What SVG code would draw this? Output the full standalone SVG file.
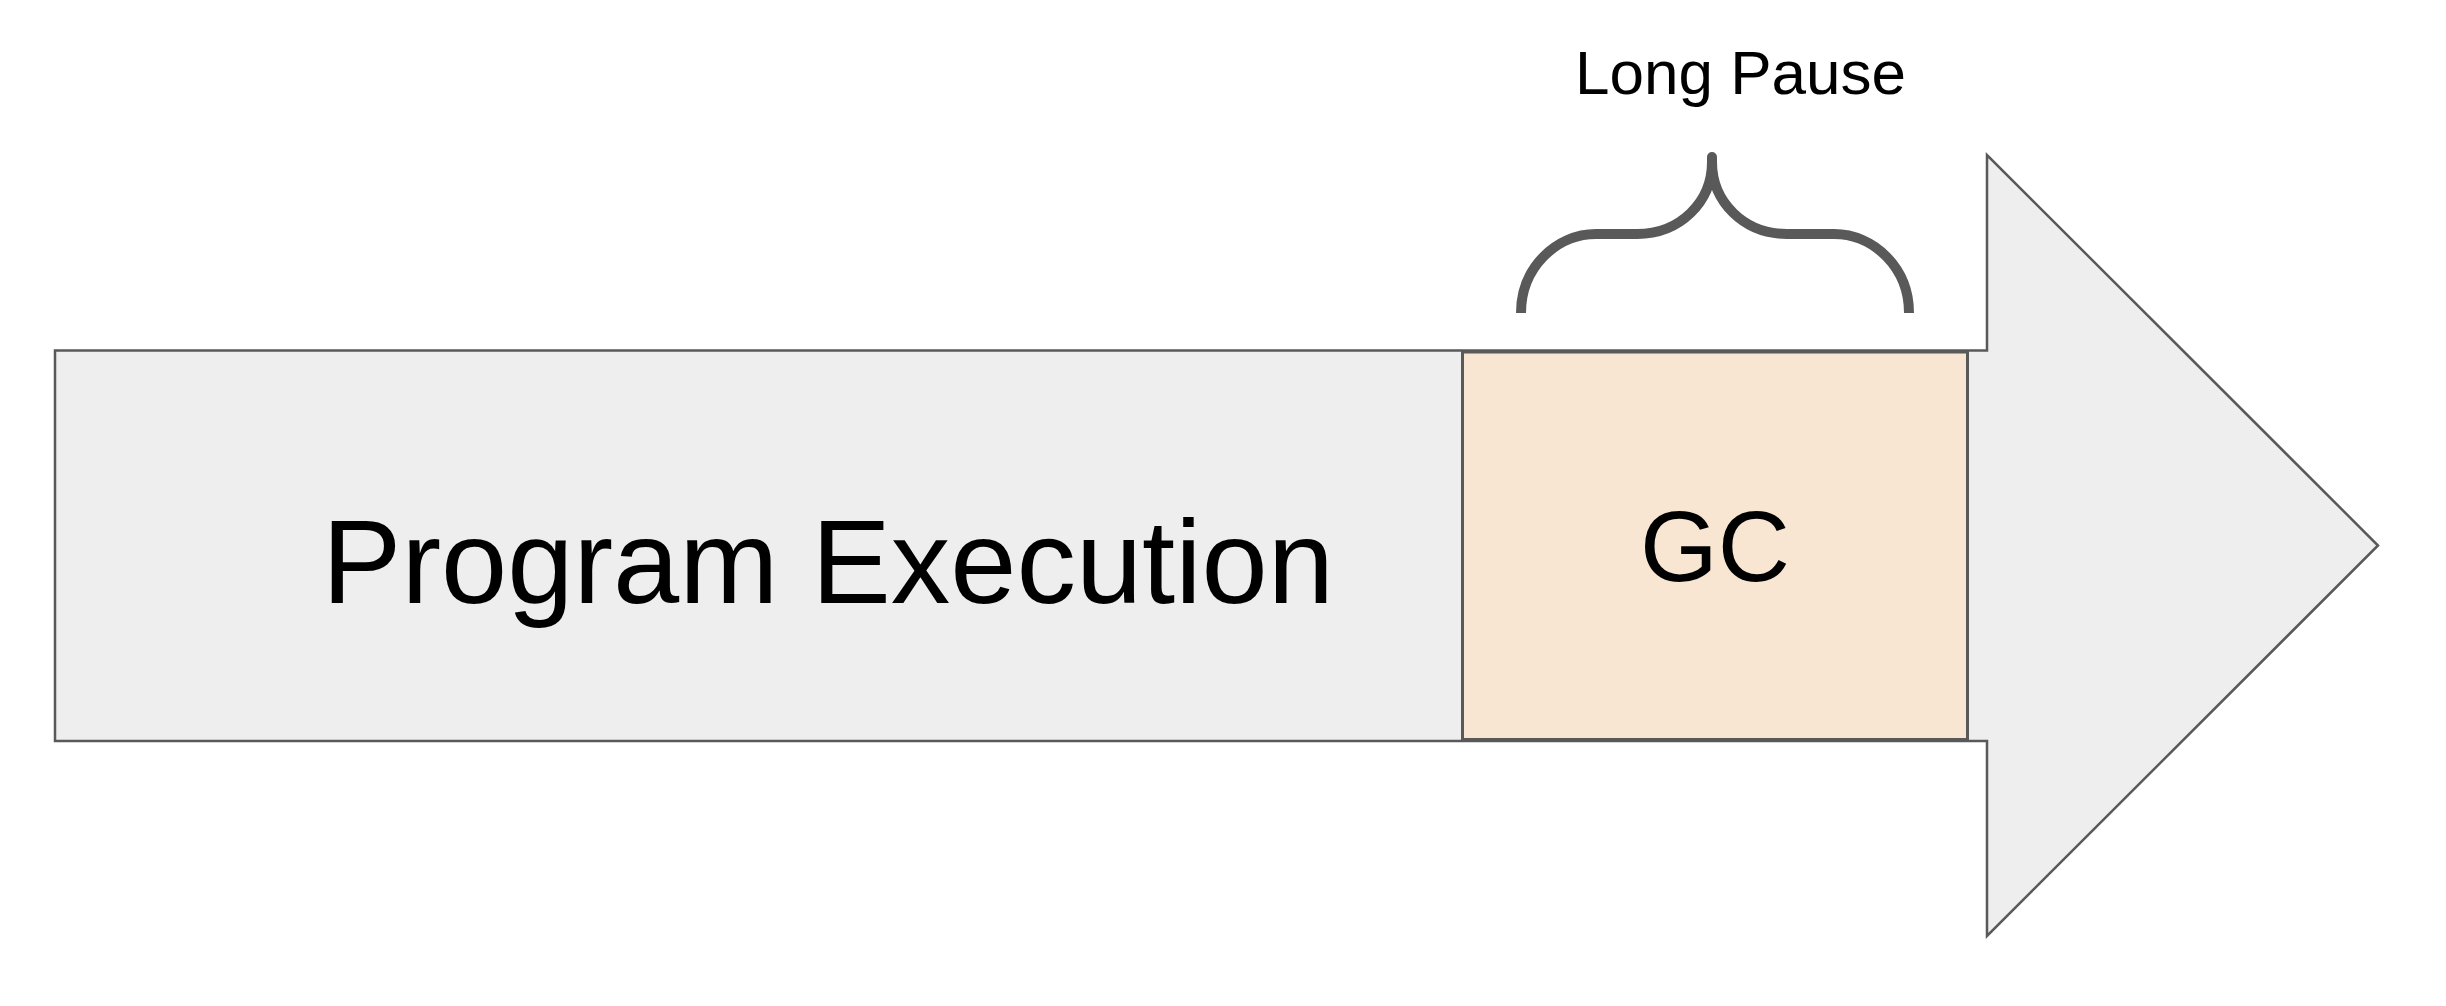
<svg xmlns="http://www.w3.org/2000/svg" width="2446" height="1006" viewBox="0 0 2446 1006">
<style>
.shape{stroke:#595959;stroke-linejoin:miter}
.lbl{font-family:"Liberation Sans",Arial,sans-serif;fill:#000}
</style>
<rect width="2446" height="1006" fill="#fff"/>
<g id="arrow">
<path class="shape" d="M55,350.5 L1987,350.5 L1987,155 L2378,545.5 L1987,936 L1987,741 L55,741 Z" fill="#eeeeee" stroke-width="2.5"/>
<text class="lbl" x="828" y="603" font-size="119" text-anchor="middle">Program Execution</text>
</g>
<g id="gc">
<rect class="shape" x="1462.5" y="352" width="505" height="387.5" fill="#f8e6d2" stroke-width="3"/>
<text class="lbl" x="1715" y="581" font-size="100" text-anchor="middle">GC</text>
</g>
<g id="brace">
<path d="M1521,313 C1521,268 1556,234 1596,234 L1637,234 C1680,234 1712,202 1712,162 L1712,157 L1712,162 C1712,202 1744,234 1787,234 L1834,234 C1874,234 1909,268 1909,313" fill="none" stroke="#595959" stroke-width="10" stroke-linecap="butt" stroke-linejoin="round"/>
<text class="lbl" x="1575" y="94" font-size="62">Long Pause</text>
</g>
<g id="connectors"/>
</svg>
